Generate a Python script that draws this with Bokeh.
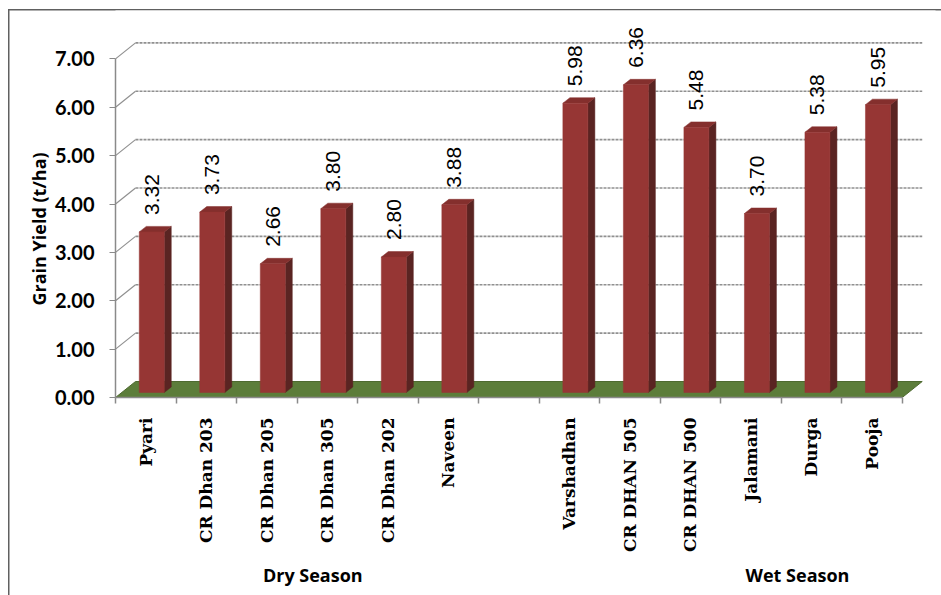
from math import pi

from bokeh.core.properties import value
from bokeh.embed import file_html
from bokeh.models import FixedTicker, LinearAxis, Range1d, Title
from bokeh.plotting import figure
from bokeh.resources import INLINE

# ---- data -------------------------------------------------------------
DRY_VARIETIES = ["Pyari", "CR Dhan 203", "CR Dhan 205", "CR Dhan 305", "CR Dhan 202", "Naveen"]
DRY_YIELD = [3.32, 3.73, 2.66, 3.80, 2.80, 3.88]

WET_VARIETIES = ["Varshadhan", "CR DHAN 505", "CR DHAN 500", "Jalamani", "Durga", "Pooja"]
WET_YIELD = [5.98, 6.36, 5.48, 3.70, 5.38, 5.95]

SEASONS = ["Dry Season", "Wet Season"]

Y_TICKS = [0, 1, 2, 3, 4, 5, 6, 7]
Y_TICK_LABELS = ["0.00", "1.00", "2.00", "3.00", "4.00", "5.00", "6.00", "7.00"]

# ---- category slots: six dry, an empty gap, six wet ---------------------
varieties = DRY_VARIETIES + WET_VARIETIES
yields = DRY_YIELD + WET_YIELD
slots = list(range(len(DRY_VARIETIES))) + [len(DRY_VARIETIES) + 1 + i for i in range(len(WET_VARIETIES))]
N_SLOTS = len(DRY_VARIETIES) + 1 + len(WET_VARIETIES)
centers = [s + 0.5 for s in slots]
SEASON_POS = [3.26, 11.27]

# ---- canvas geometry -----------------------------------------------------
W, H = 941, 595
B_LEFT, B_RIGHT, B_TOP, B_BOTTOM = 115, 6, 10, 198
X_MAX = 13.55
Y_MAX = 8.0
PX_X = X_MAX / (W - B_LEFT - B_RIGHT)   # data units per pixel
PX_Y = Y_MAX / (H - B_TOP - B_BOTTOM)

# pseudo 3-D: depth of the floor / back wall, and where the bars stand
WALL_DX, WALL_DY = 20 * PX_X, 16 * PX_Y
BAR_DX, BAR_DY = 6 * PX_X, 5 * PX_Y
DEPTH_DX, DEPTH_DY = 7 * PX_X, 5.5 * PX_Y
HALF_W = 12.5 * PX_X
LABEL_GAP = 17 * PX_Y
FLOOR_END = N_SLOTS

FRONT = "#963634"
SIDE = "#5A2422"
TOP = "#842F2D"
FLOOR = "#5C7D3A"
GRID = "#909090"
AXIS = "#8A8A8A"
FRAME_LINE = "#606060"

p = figure(
    width=W, height=H,
    x_range=Range1d(0, X_MAX), y_range=Range1d(0, Y_MAX),
    x_axis_location=None, y_axis_location=None,
    toolbar_location=None, output_backend="svg",
    min_border_left=B_LEFT, min_border_right=B_RIGHT,
    min_border_top=B_TOP, min_border_bottom=B_BOTTOM,
)
p.outline_line_color = None
p.xgrid.visible = False
p.ygrid.visible = False
p.background_fill_color = "white"
p.border_fill_color = None

# thin frame lines along the top and left of the whole chart, drawn as the
# page background behind the (transparent) border area
p.styles = {
    "background": (
        f"linear-gradient({FRAME_LINE}, {FRAME_LINE}) 8px 9px / 1.5px 100% no-repeat, "
        f"linear-gradient({FRAME_LINE}, {FRAME_LINE}) 8px 9px / 100% 1.5px no-repeat, "
        "white"
    ),
}

# back-wall gridlines and the side-wall connectors to the front axis
grid_levels = Y_TICKS[1:]
p.segment(x0=[WALL_DX] * len(grid_levels), y0=[k + WALL_DY for k in grid_levels],
          x1=[FLOOR_END + WALL_DX] * len(grid_levels), y1=[k + WALL_DY for k in grid_levels],
          line_color=GRID, line_width=1.6, line_dash="3 1")
p.segment(x0=[0] * len(grid_levels), y0=grid_levels,
          x1=[WALL_DX] * len(grid_levels), y1=[k + WALL_DY for k in grid_levels],
          line_color=GRID, line_width=1.2)

# floor
p.patch([0, FLOOR_END, FLOOR_END + WALL_DX, WALL_DX], [0, 0, WALL_DY, WALL_DY],
        fill_color=FLOOR, line_color="#4E6A30", line_width=1)

# bars: right side face, top face, front face
lefts = [c - HALF_W + BAR_DX for c in centers]
rights = [c + HALF_W + BAR_DX for c in centers]
tops = [v + BAR_DY for v in yields]

p.patches(
    xs=[[r, r + DEPTH_DX, r + DEPTH_DX, r] for r in rights],
    ys=[[BAR_DY, BAR_DY + DEPTH_DY, t + DEPTH_DY, t] for t in tops],
    fill_color=SIDE, line_color=SIDE, line_width=0.5,
)
p.patches(
    xs=[[l, r, r + DEPTH_DX, l + DEPTH_DX] for l, r in zip(lefts, rights)],
    ys=[[t, t, t + DEPTH_DY, t + DEPTH_DY] for t in tops],
    fill_color=TOP, line_color=TOP, line_width=0.5,
)
p.quad(left=lefts, right=rights, bottom=BAR_DY, top=tops,
       fill_color=FRONT, line_color=FRONT, line_width=0.5)

# value labels above the bars
p.text(
    x=[c + BAR_DX for c in centers], y=[t + LABEL_GAP for t in tops],
    text=[f"{v:.2f}" for v in yields], angle=pi / 2,
    text_align="left", text_baseline="middle",
    text_font=value("Liberation Sans"), text_font_size="21px", text_color="black",
)

# y axis
yaxis = LinearAxis(
    ticker=FixedTicker(ticks=Y_TICKS),
    major_label_overrides={k: lab for k, lab in zip(Y_TICKS, Y_TICK_LABELS)},
    bounds=(Y_TICKS[0], Y_TICKS[-1]),
    major_label_text_font="Lato", major_label_text_font_style="bold",
    major_label_text_font_size="20px", major_label_text_color="black",
    major_label_standoff=15,
    axis_line_color=AXIS, axis_line_width=1.5,
    major_tick_line_color=AXIS, major_tick_out=6, major_tick_in=0,
    minor_tick_line_color=None,
)
p.add_layout(yaxis, "left")

# y axis title, placed along the tick range rather than the whole frame
p.add_layout(Title(
    text="Grain Yield (t/ha)", align="left", offset=92, standoff=2,
    text_font="Open Sans", text_font_style="bold", text_font_size="18px",
    text_color="black",
), "left")

# category axis: names at slot centres, tick marks at slot boundaries
xaxis = LinearAxis(
    ticker=FixedTicker(ticks=centers, minor_ticks=list(range(N_SLOTS + 1))),
    major_label_overrides={c: n for c, n in zip(centers, varieties)},
    bounds=(0, N_SLOTS),
    major_label_orientation=pi / 2,
    major_label_text_font="DejaVu Serif", major_label_text_font_style="bold",
    major_label_text_font_size="17px", major_label_text_color="black",
    major_label_standoff=14,
    axis_line_color=AXIS, axis_line_width=1.5,
    major_tick_line_color=None, major_tick_out=0, major_tick_in=0,
    minor_tick_line_color=AXIS, minor_tick_out=6, minor_tick_in=0, minor_tick_line_width=1.5,
)
p.add_layout(xaxis, "below")

# season labels underneath
saxis = LinearAxis(
    ticker=FixedTicker(ticks=SEASON_POS, minor_ticks=[]),
    major_label_overrides={pos: s for pos, s in zip(SEASON_POS, SEASONS)},
    major_label_text_font="Open Sans", major_label_text_font_style="bold",
    major_label_text_font_size="18px", major_label_text_color="black",
    major_label_standoff=7,
    axis_line_color=None, major_tick_line_color=None, minor_tick_line_color=None,
    major_tick_out=0, major_tick_in=0,
)
p.add_layout(saxis, "below")

with open("out.html", "w") as f:
    f.write(file_html(p, INLINE))
